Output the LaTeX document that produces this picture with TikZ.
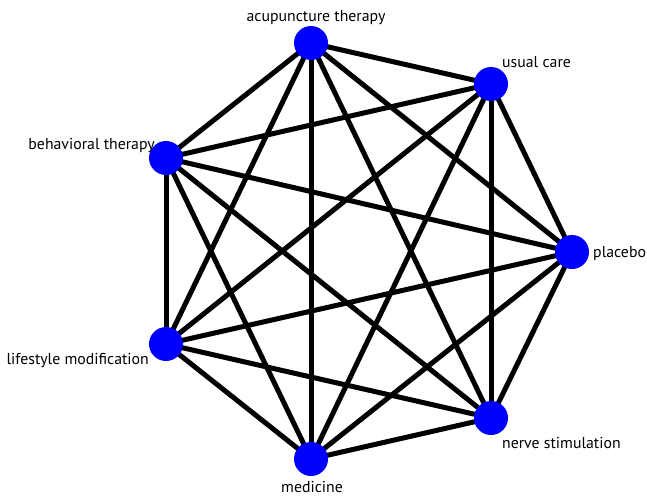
\documentclass[tikz,border=0pt]{standalone}
\usepackage{fontspec}
\setmainfont{PT Sans}
\usetikzlibrary{backgrounds}
\definecolor{nodeblue}{RGB}{0,0,255}
\begin{document}
\begin{tikzpicture}[x=1pt,y=-1pt,
  vert/.style={circle,fill=nodeblue,minimum size=34pt,inner sep=0pt},
  lbl/.style={font=\fontsize{15.8}{18}\selectfont,inner sep=0pt,text=black},
  link/.style={line width=5pt,black}]
\useasboundingbox (0,0) rectangle (647,495);
\node[vert] (acu) at (311,43) {};
\node[vert] (usu) at (491,84) {};
\node[vert] (beh) at (166,158) {};
\node[vert] (pla) at (572,252) {};
\node[vert] (lif) at (166,344) {};
\node[vert] (ner) at (491,418) {};
\node[vert] (med) at (311,459) {};
\node[lbl,anchor=base] (lacu) at (316,22) {acupuncture therapy};
\node[lbl,anchor=base west] (lusu) at (502,67) {usual care};
\node[lbl,anchor=base east] (lbeh) at (155,149) {behavioral therapy};
\node[lbl,anchor=base west] (lpla) at (593,257) {placebo};
\node[lbl,anchor=base east] (llif) at (149,364) {lifestyle modification};
\node[lbl,anchor=base west] (lner) at (502,448) {nerve stimulation};
\node[lbl,anchor=base] (lmed) at (312,492) {medicine};
\begin{scope}[on background layer]
\foreach \a/\b in {acu/usu,acu/beh,acu/pla,acu/lif,acu/ner,acu/med,
  usu/beh,usu/pla,usu/lif,usu/ner,usu/med,
  beh/pla,beh/lif,beh/ner,beh/med,
  pla/lif,pla/ner,pla/med,
  lif/ner,lif/med,ner/med}
  \draw[link] (\a.center) -- (\b.center);
\end{scope}
\end{tikzpicture}
\end{document}
